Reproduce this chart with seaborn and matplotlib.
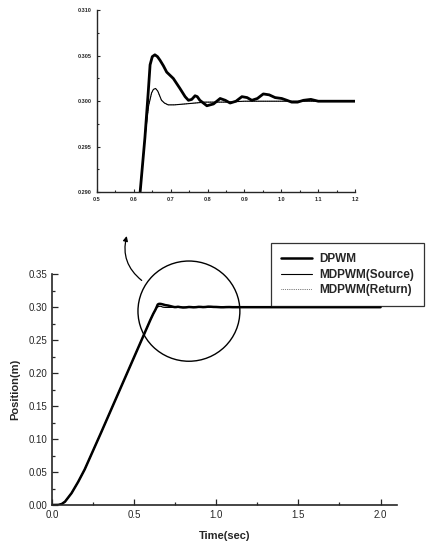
import numpy as np
import pandas as pd
import matplotlib
matplotlib.use("Agg")
import matplotlib.pyplot as plt
from matplotlib.patches import Ellipse
from matplotlib.ticker import MultipleLocator
import seaborn as sns

# DPWM response
t_dpwm = [0.0, 0.04, 0.06, 0.08, 0.12, 0.16, 0.20, 0.30, 0.40, 0.50, 0.60, 0.617,
          0.630, 0.639, 0.644, 0.650, 0.657, 0.664, 0.671, 0.680, 0.689, 0.707, 0.725,
          0.739, 0.748, 0.757, 0.766, 0.772, 0.779, 0.798, 0.816, 0.834, 0.848, 0.861,
          0.877, 0.893, 0.907, 0.920, 0.935, 0.951, 0.967, 0.983, 1.001, 1.015, 1.028,
          1.044, 1.060, 1.080, 1.100, 1.200, 1.600, 2.000]
y_dpwm = [0.0, 0.0002, 0.0015, 0.005, 0.018, 0.035, 0.054, 0.110, 0.167, 0.224, 0.281, 0.290,
          0.2960, 0.3010, 0.3040, 0.3049, 0.3051, 0.3049, 0.3045, 0.3039, 0.3032, 0.3025, 0.3014,
          0.3005, 0.3001, 0.3002, 0.3006, 0.3005, 0.3001, 0.2995, 0.2997, 0.3003, 0.3001, 0.2998,
          0.3000, 0.3005, 0.3004, 0.3001, 0.3003, 0.3008, 0.3007, 0.3004, 0.3003, 0.3001, 0.2999,
          0.2999, 0.3001, 0.3002, 0.3000, 0.3000, 0.3000, 0.3000]

# MDPWM (Source)
t_src = [0.0, 0.04, 0.06, 0.08, 0.12, 0.16, 0.20, 0.30, 0.40, 0.50, 0.60, 0.617,
         0.630, 0.640, 0.648, 0.653, 0.659, 0.665, 0.675, 0.683, 0.693, 0.710, 0.739,
         0.793, 0.850, 0.900, 1.200, 2.000]
y_src = [0.0, 0.0002, 0.0015, 0.005, 0.018, 0.035, 0.054, 0.110, 0.167, 0.224, 0.281, 0.290,
         0.2960, 0.2995, 0.3009, 0.3013, 0.3014, 0.3011, 0.3001, 0.2998, 0.2996, 0.2996, 0.2997,
         0.2999, 0.2999, 0.3000, 0.3000, 0.3000]

# MDPWM (Return) - practically on top of the source curve
t_ret = t_src
y_ret = y_src

df_dpwm = pd.DataFrame({"t": t_dpwm, "y": y_dpwm})
df_src = pd.DataFrame({"t": t_src, "y": y_src})
df_ret = pd.DataFrame({"t": t_ret, "y": y_ret})

sns.set_style("ticks")
plt.rcParams["font.family"] = ["Liberation Sans", "DejaVu Sans"]

fig = plt.figure(figsize=(4.32, 5.43), dpi=100)

# ---- zoomed inset (top) ----
ax1 = fig.add_axes([0.2245, 0.646, 0.5975, 0.3352])
sns.lineplot(data=df_dpwm, x="t", y="y", ax=ax1, color="black", lw=2.0, sort=False)
sns.lineplot(data=df_src, x="t", y="y", ax=ax1, color="black", lw=0.8, sort=False)
sns.lineplot(data=df_ret, x="t", y="y", ax=ax1, color="black", lw=0.5, ls=":", sort=False)
ax1.set_xlim(0.5, 1.2)
ax1.set_ylim(0.290, 0.310)
ax1.set_xticks([0.5, 0.6, 0.7, 0.8, 0.9, 1.0, 1.1, 1.2])
ax1.set_xticklabels(["0.5", "0.6", "0.7", "0.8", "0.9", "1.0", "1.1", "1.2"])
ax1.set_yticks([0.290, 0.295, 0.300, 0.305, 0.310])
ax1.set_yticklabels(["0.290", "0.295", "0.300", "0.305", "0.310"])
ax1.yaxis.set_minor_locator(MultipleLocator(0.0025))
ax1.xaxis.set_minor_locator(MultipleLocator(0.05))
ax1.tick_params(which="both", direction="in", labelsize=4, width=0.8)
ax1.tick_params(which="major", length=2.5)
ax1.tick_params(which="minor", length=1.5)
for lab in ax1.get_xticklabels() + ax1.get_yticklabels():
    lab.set_fontweight("bold")
ax1.set_xlabel("")
ax1.set_ylabel("")
sns.despine(ax=ax1)
for s in ax1.spines.values():
    s.set_linewidth(1.0)

# ---- main plot (bottom) ----
ax2 = fig.add_axes([0.120, 0.070, 0.799, 0.425])
sns.lineplot(data=df_dpwm, x="t", y="y", ax=ax2, color="black", lw=1.8,
             sort=False, label="DPWM")
sns.lineplot(data=df_src, x="t", y="y", ax=ax2, color="black", lw=0.8,
             sort=False, label="MDPWM(Source)")
sns.lineplot(data=df_ret, x="t", y="y", ax=ax2, color="black", lw=0.5, ls=":",
             sort=False, label="MDPWM(Return)")
ax2.set_xlim(0.0, 2.1)
ax2.set_ylim(0.0, 0.35)
ax2.set_xticks([0.0, 0.5, 1.0, 1.5, 2.0])
ax2.set_xticklabels(["0.0", "0.5", "1.0", "1.5", "2.0"])
ax2.set_yticks([0.00, 0.05, 0.10, 0.15, 0.20, 0.25, 0.30, 0.35])
ax2.set_yticklabels(["0.00", "0.05", "0.10", "0.15", "0.20", "0.25", "0.30", "0.35"])
ax2.xaxis.set_minor_locator(MultipleLocator(0.25))
ax2.yaxis.set_minor_locator(MultipleLocator(0.025))
ax2.tick_params(which="both", direction="in", labelsize=7, width=0.9)
ax2.tick_params(which="major", length=4)
ax2.tick_params(which="minor", length=2)
ax2.set_xlabel("Time(sec)", fontsize=8, fontweight="bold", labelpad=8)
ax2.set_ylabel("Position(m)", fontsize=8, fontweight="bold", labelpad=6)
sns.despine(ax=ax2)
for s in ax2.spines.values():
    s.set_linewidth(1.2)

leg = ax2.legend(loc="upper left", bbox_to_anchor=(0.635, 1.135), frameon=True,
                 fancybox=False, fontsize=8.5, handlelength=2.6, handletextpad=0.6,
                 borderpad=0.85, labelspacing=0.3, borderaxespad=0)
leg.get_frame().set_edgecolor("black")
leg.get_frame().set_linewidth(0.9)
for txt in leg.get_texts():
    txt.set_fontweight("bold")

# circle marking the zoomed region
ax2.add_patch(Ellipse((0.834, 0.294), 0.62, 0.152, fill=False, edgecolor="black",
                      lw=1.0, clip_on=False))
ax2.annotate("", xy=(0.46, 0.412), xytext=(0.56, 0.338), xycoords="data",
             annotation_clip=False,
             arrowprops=dict(arrowstyle="-|>", color="black", lw=0.9,
                             mutation_scale=7,
                             connectionstyle="arc3,rad=-0.35"))

fig.savefig("out.png", dpi=100)
